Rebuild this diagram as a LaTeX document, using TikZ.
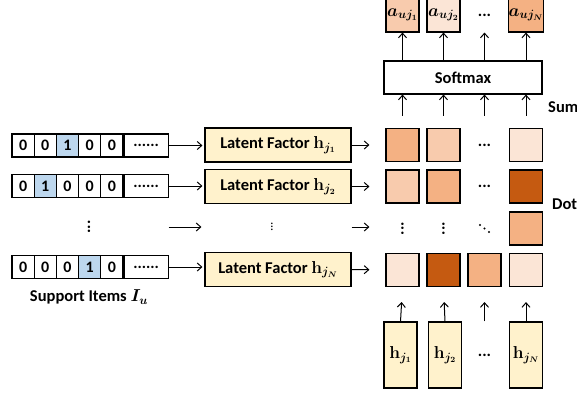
\documentclass[tikz,border=0pt]{standalone}
\usepackage[no-math]{fontspec}
\setmainfont{Carlito}
\usepackage{bm}
\usepackage{tikz}
\usetikzlibrary{arrows.meta,positioning,calc}
\definecolor{hotblue}{HTML}{BDD7EE}
\definecolor{latyellow}{HTML}{FFF2CC}
\definecolor{orA}{HTML}{F4B183}
\definecolor{orB}{HTML}{F8CBAD}
\definecolor{orC}{HTML}{FBE5D6}
\definecolor{orD}{HTML}{C55A11}
\tikzset{
  bitcell/.style={draw, line width=1.1pt, minimum width=22.2pt, minimum height=23pt, inner sep=0pt, font=\fontsize{16}{18}\selectfont\bfseries},
  latbox/.style={draw, line width=1.1pt, fill=latyellow, minimum width=146pt, minimum height=34pt, inner sep=2pt, font=\fontsize{16.5}{19}\selectfont\bfseries},
  matcell/.style={draw, line width=1.1pt, minimum width=33pt, minimum height=33pt, inner sep=0pt},
  dotmark/.style={inner sep=0pt, font=\fontsize{16.5}{19}\selectfont\bfseries},
  hbox/.style={draw, line width=1.1pt, fill=latyellow, minimum width=33pt, minimum height=66pt, inner sep=0pt, font=\fontsize{16.5}{19}\selectfont},
  abox/.style={draw, line width=1.1pt, minimum width=33pt, minimum height=34pt, inner sep=0pt, font=\fontsize{16.5}{19}\selectfont},
  lbl/.style={font=\fontsize{16.5}{19}\selectfont\bfseries, inner sep=0pt},
  thinarrow/.style={-{Straight Barb[length=4.5pt,width=8pt]}, line width=1pt},
}

\begin{document}
\begin{tikzpicture}[x=1pt,y=-1pt]
  \useasboundingbox (0,0) rectangle (577,393);

  % Support item bit vectors
  \foreach \r/\y/\hot in {1/145.5/3, 2/186/2, N/267/4}
  {
    \foreach \c in {1,...,5}
    {
      \ifnum\c=\hot
        \node[bitcell, fill=hotblue] (cell\r-\c) at (23.1+22.2*\c-22.2, \y) {1};
      \else
        \node[bitcell] (cell\r-\c) at (23.1+22.2*\c-22.2, \y) {0};
      \fi
    }
    \node[bitcell, minimum width=44pt, anchor=west] (cell\r-6) at (cell\r-5.east) {......};
  }
  \node[lbl] (supp) at (89,297) {Support Items $\bm{I_u}$};

  % Latent factor boxes
  \foreach \r/\y/\j in {1/145/1, 2/186.5/2, N/269.5/N}
    \node[latbox] (lat\r) at (278,\y) {Latent Factor $\mathbf{h}_{\bm{j_{\j}}}$};

  % Dot matrix
  \foreach \r/\y in {1/145, 2/186.5, 3/228.5, N/270}
    \foreach \c/\x in {1/402.5, 2/443.5, 3/484.5, 4/526}
      \coordinate (p\r-\c) at (\x,\y);
  \foreach \pos/\col in {1-1/orA, 1-2/orB, 1-4/orC,
                        2-1/orB, 2-2/orA, 2-4/orD,
                        3-4/orA,
                        N-1/orC, N-2/orD, N-3/orA, N-4/orC}
    \node[matcell, fill=\col] (m\pos) at (p\pos) {};
  \node[dotmark] (m1-3) at (p1-3) {...};
  \node[dotmark] (m2-3) at (p2-3) {...};
  \node[dotmark, rotate=90] (m3-1) at (p3-1) {...};
  \node[dotmark, rotate=90] (m3-2) at (p3-2) {...};
  % diagonal dots
  \foreach \k in {-1,0,1}
    \fill ($(p3-3)+(\k*4.5,\k*3.5)$) circle (1.1pt);

  % Vertical dots in the middle row
  \node[lbl, rotate=90] (vdL) at (89,227) {...};
  \node[lbl, rotate=90, font=\fontsize{13}{15}\selectfont] (vdM) at (272,227) {...};

  % Arrows into and out of the latent factors
  \foreach \r in {1,2,N}
  {
    \draw[thinarrow, shorten >=2pt] (cell\r-6.east) -- (lat\r.west |- cell\r-6.east);
    \draw[thinarrow, shorten >=16pt] (lat\r.east) -- (m\r-1.west);
  }
  \draw[thinarrow, shorten >=3pt] (cellN-6.east |- vdL) -- (latN.west |- vdL);
  \draw[thinarrow, shorten >=16pt] (latN.east |- vdL) -- (mN-1.west |- vdL);

  % Softmax and attention weights
  \node[draw, line width=1.1pt, minimum width=158pt, minimum height=33pt, lbl] (soft) at (463,77.5) {Softmax};
  \node[abox, fill=orB] (a1) at (402.5,15) {$\bm{a_{uj_1}}$};
  \node[abox, fill=orC] (a2) at (443.5,15) {$\bm{a_{uj_2}}$};
  \node[lbl] (a3) at (484.5,15) {...};
  \node[abox, fill=orA] (a4) at (526,15) {$\bm{a_{uj_N}}$};
  \foreach \c in {1,...,4}
  {
    \draw[thinarrow] (soft.north -| a\c) -- (a\c |- a1.south);
    \draw[thinarrow, shorten <=29.5pt] (p1-\c) -- (soft.south -| p1-\c);
  }
  \node[lbl, anchor=west] (sumlbl) at (548,107) {Sum};
  \node[lbl, anchor=west] (dotlbl) at (552,204) {Dot};

  % Item embeddings
  \node[hbox] (h1) at (400.5,355) {$\mathbf{h}_{\bm{j_1}}$};
  \node[hbox] (h2) at (445,355) {$\mathbf{h}_{\bm{j_2}}$};
  \node[lbl] (h3) at (484.5,355) {...};
  \node[hbox] (h4) at (526,355) {$\mathbf{h}_{\bm{j_N}}$};
  \foreach \c in {1,...,4}
    \draw[thinarrow, shorten >=15pt] (h\c |- h1.north) -- (mN-\c.south);
\end{tikzpicture}
\end{document}
